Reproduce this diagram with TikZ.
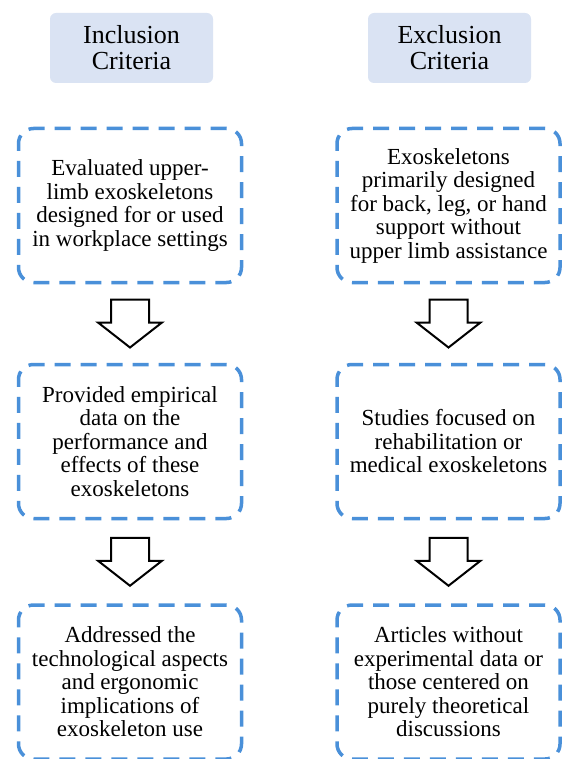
\documentclass[tikz,border=0pt]{standalone}
\usepackage{fontspec}
\setmainfont{Liberation Serif}
\usetikzlibrary{calc}
\definecolor{hdrfill}{RGB}{218,227,243}
\definecolor{dashblue}{RGB}{74,144,217}
\tikzset{
  hdr/.style={fill=hdrfill, draw=none, rounded corners=6pt, minimum width=163pt, minimum height=70pt,
    align=center, inner sep=0pt, font=\fontsize{26}{26}\selectfont},
  crit/.style={draw=dashblue, line width=3.5pt, dash pattern=on 16pt off 10pt, rounded corners=15pt,
    minimum width=223pt, minimum height=154pt, align=center, inner sep=0pt,
    font=\fontsize{23}{23.5}\selectfont},
  blockarrow/.style={draw=black, fill=white, line width=2pt, line join=miter}
}
\newcommand{\downblock}[2]{%
  \coordinate (#1) at (#2);
  \draw[blockarrow] (#1) ++(-19,-24) -- ++(38,0) -- ++(0,23) -- ++(13,0) -- ++(-32,25)
    -- ++(-32,-25) -- ++(13,0) -- cycle;}
\begin{document}
\begin{tikzpicture}[x=1pt,y=-1pt]
\useasboundingbox (0,0) rectangle (563,759);
% headers
\node[hdr] (hin) at (131.5,48) {Inclusion\\Criteria};
\node[hdr] (hex) at (449.5,48) {Exclusion\\Criteria};
% inclusion column
\node[crit] (i1) at (130,205.5) {Evaluated upper-\\limb exoskeletons\\designed for or used\\in workplace settings};
\node[crit] (i2) at (130,441.5) {Provided empirical\\data on the\\performance and\\effects of these\\exoskeletons};
\node[crit] (i3) at (130,682) {Addressed the\\technological aspects\\and ergonomic\\implications of\\exoskeleton use};
% exclusion column
\node[crit] (e1) at (448.5,205.5) {Exoskeletons\\primarily designed\\for back, leg, or hand\\support without\\upper limb assistance};
\node[crit] (e2) at (448.5,441.5) {Studies focused on\\rehabilitation or\\medical exoskeletons};
\node[crit] (e3) at (448.5,682) {Articles without\\experimental data or\\those centered on\\purely theoretical\\discussions};
% arrows
\downblock{ai1}{$(i1.south)!0.5!(i2.north)$}
\downblock{ai2}{$(i2.south)!0.5!(i3.north)$}
\downblock{ae1}{$(e1.south)!0.5!(e2.north)$}
\downblock{ae2}{$(e2.south)!0.5!(e3.north)$}
\end{tikzpicture}
\end{document}
